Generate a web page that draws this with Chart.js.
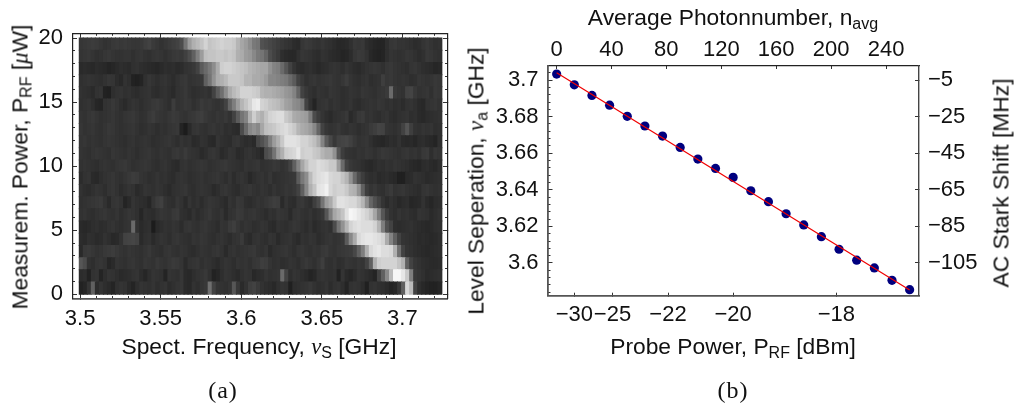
<!DOCTYPE html>
<html>
<head>
<meta charset="utf-8">
<script src="https://cdn.jsdelivr.net/npm/chart.js@4"></script>
<style>
  body { margin: 0; background: #fff; width: 1014px; height: 407px; overflow: hidden; position: relative; }
  canvas { position: absolute; top: 0; }
  .lbl { position: absolute; white-space: nowrap; font: 22.8px "Liberation Sans", sans-serif; color: #111; transform: translate(-50%, -50%); }
  .lbl.vert { transform: translate(-50%, -50%) rotate(-90deg); }
  .lbl sub { font-size: 16px; line-height: 0; vertical-align: -4px; }
  .lbl i { font-family: "Liberation Serif", serif; }
  .cap { font: 24px "Liberation Serif", serif; letter-spacing: 1px; }
</style>
</head>
<body>
<canvas id="graficoMapa" width="470" height="407" style="left:0"></canvas>
<canvas id="graficoStark" width="544" height="407" style="left:470px"></canvas>

<div class="lbl vert" style="left:20px;top:167px">Measurem. Power, P<sub>RF</sub> [<i>μ</i>W]</div>
<div class="lbl" style="left:259px;top:346px">Spect. Frequency, <i>ν</i><sub>S</sub> [GHz]</div>
<div class="lbl cap" style="left:223px;top:390px">(a)</div>
<div class="lbl" style="left:733px;top:17px">Average Photonnumber, n<sub>avg</sub></div>
<div class="lbl" style="left:733px;top:346px">Probe Power, P<sub>RF</sub> [dBm]</div>
<div class="lbl vert" style="left:476px;top:181px">Level Seperation, <i>ν</i><sub>a</sub> [GHz]</div>
<div class="lbl vert" style="left:1001px;top:183px">AC Stark Shift [MHz]</div>
<div class="lbl cap" style="left:733px;top:390px">(b)</div>

<script>
// panel (a) - spectroscopy map

const freqStart = 3.4995;  // GHz, left edge of first column
const freqStep = 0.0025;
const powerStep = 20 / 21; // uW, height of one row
const greyLift = 6;

// grey level of every cell, first row is the top one (20 uW), last is 0 uW
const greyRows = [
  [48,50,52,54,52,48,44,46,50,52, 50,52,50,48,48,50,56,60,52,48, 44,48,52,56,60,70,110,150,170,180, 190,205,190,195,200,205,200,200,195,175, 160,150,135,115,110,75,70,65,60,55, 50,46,44,38,36,48,52,50,46,44, 48,44,42,38,34,34,36,42,50,48, 50,40,36,32,30,30,40,48,50,46, 46,44,42,38,40,46,50,46,42,44],
  [46,48,50,46,42,44,48,50,46,44, 44,46,46,42,46,48,44,42,46,48, 46,42,46,50,52,50,58,70,90,120, 150,185,190,190,195,195,190,195,190,170, 165,150,145,130,115,110,95,70,60,52, 40,36,34,34,42,48,46,44,40,38, 44,42,38,36,34,30,32,38,48,52, 50,44,34,30,28,30,40,46,44,42, 44,48,46,42,38,42,50,48,44,42],
  [36,38,36,34,38,36,34,30,32,36, 40,38,36,42,44,40,38,36,34,32, 36,40,38,40,36,38,44,46,50,60, 85,100,115,135,165,200,205,205,200,195, 190,185,175,170,165,160,160,140,125,120, 100,80,60,46,38,36,40,42,38,34, 38,40,44,46,44,40,46,42,38,36, 40,44,46,48,46,42,48,50,46,44, 42,40,46,48,44,40,38,36,32,34],
  [42,44,46,44,42,40,44,48,46,38, 34,44,40,28,26,30,42,48,44,40, 44,46,42,38,44,48,50,44,46,48, 50,90,110,140,165,170,180,195,195,195, 190,175,175,165,165,160,150,130,130,125, 120,115,100,85,60,50,42,46,48,44, 46,48,50,46,44,48,54,46,42,40, 44,46,40,42,44,56,48,50,46,44, 46,44,40,42,48,46,44,46,50,48],
  [44,42,40,36,44,46,28,26,40,44, 46,42,44,40,38,42,44,46,40,38, 42,44,40,36,44,46,50,44,40,42, 44,46,42,60,85,105,135,165,180,190, 205,205,205,200,195,175,170,170,165,160, 155,145,140,125,95,60,50,44,40,46, 44,42,48,46,44,40,42,46,44,42, 48,46,44,42,46,48,52,100,50,46, 44,60,62,50,44,46,48,42,50,48],
  [42,44,46,40,32,30,44,46,50,46, 40,36,42,46,44,40,44,46,50,52, 48,44,40,54,44,46,50,48,42,46, 52,48,50,46,44,48,60,95,120,150, 175,190,205,225,230,205,200,190,185,180, 170,155,150,135,130,115,60,42,30,44, 46,48,42,46,44,40,42,46,40,38, 42,44,46,44,48,46,42,44,40,42, 38,44,46,42,36,34,44,46,48,44],
  [46,44,48,50,46,42,44,46,48,44, 42,46,48,50,46,42,44,50,54,48, 46,44,48,52,50,46,44,48,50,54, 56,50,46,44,48,46,50,44,60,85, 110,125,170,200,180,170,190,205,210,215, 215,195,185,165,160,155,150,120,70,55, 46,40,36,42,44,46,50,36,42,50, 52,44,46,42,40,44,46,40,38,42, 44,46,40,42,36,34,38,40,42,44],
  [48,44,46,48,44,42,46,50,48,44, 42,44,46,48,44,40,42,46,44,40, 44,42,46,48,50,30,22,36,46,48, 44,42,46,48,44,46,40,42,38,36, 70,100,130,140,130,160,185,190,195,205, 210,215,205,195,175,165,160,150,130,95, 60,48,44,46,50,44,42,46,44,40, 44,46,52,56,62,60,46,44,42,46, 60,78,56,44,42,46,44,46,40,42],
  [46,48,44,46,44,42,46,48,46,44, 42,40,44,46,42,44,46,44,40,42, 44,46,48,44,40,46,42,44,36,38, 44,42,36,34,46,42,40,38,46,48, 42,38,40,36,65,75,90,120,150,170, 195,220,220,220,215,205,205,195,185,165, 125,85,65,50,60,62,64,58,50,44, 46,48,42,36,34,32,36,40,38,44, 36,34,36,32,38,40,36,34,30,42],
  [46,44,42,46,48,46,44,42,48,46, 44,42,46,44,40,44,46,48,44,42, 46,44,42,48,50,46,52,46,44,42, 36,40,46,48,44,36,40,46,44,36, 38,44,46,42,38,34,70,80,110,150, 170,200,205,210,225,200,205,205,195,190, 175,165,165,140,80,55,46,44,42,46, 44,48,46,42,46,50,48,46,44,42, 46,48,44,46,42,50,52,40,48,46],
  [44,46,44,42,40,44,46,44,42,46, 48,50,46,42,44,46,48,46,42,40, 44,46,42,38,36,44,46,42,44,46, 48,46,42,44,46,48,50,46,44,42, 40,46,44,46,48,42,44,46,50,48, 44,48,60,90,125,160,185,205,205,215, 210,205,195,195,150,100,60,50,46,44, 40,36,34,38,42,40,44,42,46,44, 42,40,36,34,32,38,40,36,34,40],
  [38,44,46,36,34,40,44,46,48,44, 42,46,50,54,52,46,44,40,42,46, 42,44,40,38,44,46,44,40,42,44, 46,42,44,46,48,44,40,46,38,44, 46,42,34,40,44,46,42,48,40,42, 44,46,48,50,85,115,135,180,205,215, 220,225,210,205,205,190,175,140,100,70, 55,44,40,42,36,38,40,36,34,26, 26,36,38,44,42,40,36,38,40,42],
  [44,40,38,42,46,44,40,46,48,44, 38,42,46,44,36,40,46,44,42,46, 44,40,36,42,44,46,48,42,40,44, 46,44,42,36,40,46,48,44,40,38, 44,46,48,44,42,46,44,40,46,42, 44,48,46,50,60,90,130,170,190,220, 225,235,210,200,205,205,195,175,170,140, 90,55,46,50,44,42,48,52,44,46, 48,44,42,40,38,46,48,44,42,44],
  [42,44,46,48,50,52,44,36,46,48, 44,30,36,46,42,40,38,32,46,54, 58,46,42,40,48,44,36,46,40,44, 38,44,48,46,44,40,36,46,42,50, 48,40,38,42,46,44,48,52,56,54, 36,46,40,38,48,50,44,40,56,70, 110,150,165,195,220,220,215,210,210,195, 175,135,95,75,60,46,38,44,40,34, 38,40,32,34,36,44,36,32,38,40],
  [44,46,42,40,44,46,48,44,42,46, 40,44,48,46,42,32,42,40,38,44, 48,46,44,50,52,42,40,36,44,38, 42,46,50,44,42,46,36,44,46,52, 50,44,46,48,44,42,38,44,42,48, 46,44,36,46,48,44,42,46,40,44, 50,80,120,160,175,190,220,240,235,225, 215,205,190,160,120,80,55,44,40,46, 42,44,40,38,46,44,42,36,40,44],
  [36,34,36,40,42,38,40,44,46,42, 40,44,46,100,44,36,40,42,22,36, 40,44,42,46,44,38,46,48,44,42, 46,48,44,42,38,46,44,52,56,48, 42,46,44,40,42,46,44,38,36,44, 42,40,44,48,46,42,38,44,36,40, 44,46,42,70,110,140,175,205,215,220, 215,215,215,205,175,120,75,60,40,38, 40,42,44,40,38,36,34,36,40,42],
  [38,36,42,40,36,38,44,40,34,36, 44,60,62,64,60,36,42,44,36,42, 46,44,40,46,48,44,42,40,46,44, 48,46,42,40,44,46,42,38,44,46, 52,40,36,44,46,42,40,46,44,36, 42,44,46,40,36,44,42,46,44,38, 42,46,48,44,46,50,85,130,165,210, 220,225,225,220,215,205,165,125,90,60, 46,44,42,40,36,38,36,34,36,40],
  [36,50,52,48,44,46,50,52,54,50, 46,44,48,46,44,42,46,50,44,42, 40,46,48,44,42,46,44,40,38,42, 46,44,42,46,48,44,36,44,46,42, 44,46,48,50,44,42,46,36,42,44, 46,48,44,40,46,48,44,42,46,44, 50,52,46,44,48,50,52,54,65,90, 120,170,210,220,225,215,215,210,170,105, 60,46,44,40,38,36,34,36,38,40],
  [80,70,44,40,46,48,44,32,36,46, 44,42,46,48,44,42,48,46,44,50, 46,44,48,52,50,46,36,44,46,48, 42,46,44,40,36,42,46,44,40,46, 44,46,42,48,50,56,54,46,42,44, 40,42,46,44,40,46,50,46,42,48, 56,44,42,46,40,42,48,46,44,48, 46,60,90,170,200,205,205,205,205,190, 170,90,60,48,44,40,38,36,36,38],
  [38,40,28,44,46,30,40,46,44,40, 36,38,40,44,46,38,32,40,46,44, 42,30,46,44,42,48,36,34,40,44, 46,50,42,28,32,40,46,44,40,36, 42,46,44,34,38,40,46,42,44,46, 100,60,40,46,44,40,36,30,34,44, 46,44,42,44,28,46,36,32,38,46, 44,40,36,30,60,90,130,180,240,240, 225,195,120,50,46,42,36,38,40,42],
  [28,32,46,90,38,46,40,36,30,42, 46,44,36,30,40,46,44,42,46,40, 44,46,38,42,46,48,36,34,44,40, 46,50,105,60,46,44,42,46,80,50, 36,44,56,60,52,44,40,38,34,42, 46,44,26,40,42,44,46,50,44,40, 42,46,38,44,46,40,30,44,46,44, 38,26,44,46,42,40,36,30,34,50, 90,210,180,60,40,34,30,28,28,32]
];

const mapXMajor = [3.5, 3.55, 3.6, 3.65, 3.7];
const mapXMinor = [3.5, 3.51, 3.52, 3.53, 3.54, 3.55, 3.56, 3.57, 3.58, 3.59, 3.6, 3.61, 3.62, 3.63, 3.64, 3.65, 3.66, 3.67, 3.68, 3.69, 3.7, 3.71, 3.72];
const mapYMajor = [0, 5, 10, 15, 20];
const mapYMinor = [0, 1, 2, 3, 4, 5, 6, 7, 8, 9, 10, 11, 12, 13, 14, 15, 16, 17, 18, 19, 20];

// panel (b) - level separation against probe power

const probePower = [0, 1, 2, 3, 4, 5, 6, 7, 8, 9, 10, 11, 12, 13, 14, 15, 16, 17, 18, 19, 20]; // uW
const levelSeparation = [3.7033, 3.6974, 3.6916, 3.6863, 3.6802, 3.6749, 3.6694, 3.6632, 3.6568, 3.6517, 3.6468, 3.6395, 3.6335, 3.6269, 3.6208, 3.6144, 3.6075, 3.6015, 3.5973, 3.5905, 3.5854];
const fitPower = [0, 20];
const fitSeparation = [3.704, 3.5852];

const dbmTicks = [-30, -25, -22, -20, -18];
const dbmTickPos = [1, 3.162, 6.31, 10, 15.85]; // same ticks in uW
const photonTicks = [0, 40, 80, 120, 160, 200, 240];
const sepMajor = [3.6, 3.62, 3.64, 3.66, 3.68, 3.7];
const sepMinor = [3.584, 3.588, 3.592, 3.596, 3.6, 3.604, 3.608, 3.612, 3.616, 3.62, 3.624, 3.628, 3.632, 3.636, 3.64, 3.644, 3.648, 3.652, 3.656, 3.66, 3.664, 3.668, 3.672, 3.676, 3.68, 3.684, 3.688, 3.692, 3.696, 3.7, 3.704];
const starkTicks = [-5, -25, -45, -65, -85, -105];

const minus = (v) => String(v).replace('-', '\u2212');
const tickFont = { family: '"Liberation Sans", sans-serif', size: 22 };

// one frame side: fixed thickness so the plot area lands where it should
function axis(position, min, max, tickValues, o) {
  const vertical = position === 'left' || position === 'right';
  return {
    type: 'linear',
    position,
    min,
    max,
    offset: false,
    beginAtZero: false,
    weight: o.size ? 1 : 0,
    border: { display: !!o.size, color: o.frame || '#222', width: o.frameWidth || 1.2 },
    grid: { drawOnChartArea: false, drawTicks: true, offset: false, tickLength: -(o.tick || 2.5), tickColor: '#333', tickWidth: 1 },
    ticks: {
      display: !!o.labels,
      autoSkip: false,
      maxRotation: 0,
      minRotation: 0,
      padding: o.padding || 0,
      color: '#111',
      font: tickFont,
      callback: o.labels || (() => '')
    },
    afterBuildTicks: (s) => { s.ticks = tickValues.map((value) => ({ value })); },
    afterFit: (s) => {
      if (vertical) s.width = o.size || 0;
      else s.height = o.size || 0;
    }
  };
}

// every cell is one floating bar, colour comes from the grey level
const mapCells = [];
greyRows.forEach((row, r) => {
  const y = (greyRows.length - r - 0.5) * powerStep;
  row.forEach((grey, c) => {
    mapCells.push({ x: [freqStart + c * freqStep, freqStart + (c + 1) * freqStep], y, grey });
  });
});

new Chart(document.getElementById('graficoMapa'), {
  type: 'bar',
  data: {
    datasets: [{
      data: mapCells,
      xAxisID: 'x',
      yAxisID: 'y',
      barPercentage: 1,
      categoryPercentage: 1,
      inflateAmount: 0.5,
      backgroundColor: (ctx) => {
        const g = (ctx.raw ? ctx.raw.grey : 0) + greyLift;
        return `rgb(${g},${g},${g})`;
      }
    }]
  },
  options: {
    indexAxis: 'y',
    responsive: false,
    animation: false,
    events: [],
    layout: { padding: 0 },
    plugins: { legend: { display: false }, tooltip: { enabled: false } },
    scales: {
      x: axis('bottom', 3.4953, 3.728, mapXMajor, { size: 108.5, tick: 4.5, padding: 12, frame: '#555', frameWidth: 1.8, labels: (v) => String(v) }),
      xm: axis('bottom', 3.4953, 3.728, mapXMinor, {}),
      xt: axis('top', 3.4953, 3.728, mapXMajor, { size: 33.3, tick: 4.5 }),
      xtm: axis('top', 3.4953, 3.728, mapXMinor, {}),
      y: axis('left', -0.33, 20.37, mapYMajor, { size: 72.5, tick: 4.5, padding: 14, labels: (v) => String(v) }),
      ym: axis('left', -0.33, 20.37, mapYMinor, {}),
      yr: axis('right', -0.33, 20.37, mapYMajor, { size: 22.5, tick: 4.5 }),
      yrm: axis('right', -0.33, 20.37, mapYMinor, {})
    }
  }
});

new Chart(document.getElementById('graficoStark'), {
  type: 'scatter',
  data: {
    datasets: [
      {
        // linear fit, first so it sits above the dots
        data: fitPower.map((x, i) => ({ x, y: fitSeparation[i] })),
        showLine: true,
        borderColor: '#f00000',
        borderWidth: 1.2,
        pointRadius: 0
      },
      {
        data: probePower.map((x, i) => ({ x, y: levelSeparation[i] })),
        showLine: false,
        backgroundColor: '#00007f',
        borderWidth: 0,
        pointRadius: 4.6
      }
    ]
  },
  options: {
    responsive: false,
    animation: false,
    events: [],
    layout: { padding: 0 },
    plugins: { legend: { display: false }, tooltip: { enabled: false } },
    scales: {
      x: axis('bottom', -0.49, 20.53, dbmTickPos, { size: 111.3, tick: 3, padding: 9, frame: '#555', frameWidth: 1.8, labels: (v, i) => minus(dbmTicks[i]) }),
      xt: axis('top', -6.2, 264, photonTicks, { size: 66, tick: 3, padding: 6, labels: (v) => String(v) }),
      y: axis('left', 3.5821, 3.7077, sepMajor, { size: 78, tick: 4.5, padding: 14, frame: '#555', frameWidth: 1.8, labels: (v) => String(v) }),
      ym: axis('left', 3.5821, 3.7077, sepMinor, {}),
      yr: axis('right', -122.9, 2.7, starkTicks, { size: 95, tick: 4, padding: 13, frame: '#444', frameWidth: 1.4, labels: (v) => minus(v) })
    }
  }
});
</script>
</body>
</html>
